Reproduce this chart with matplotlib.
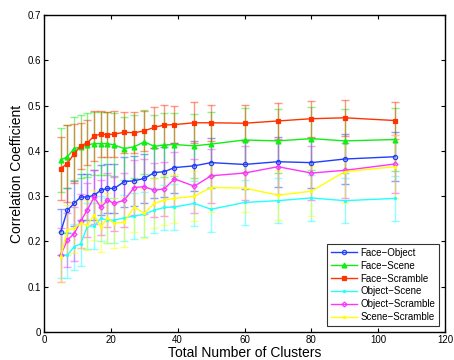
import matplotlib
matplotlib.use("Agg")
import matplotlib.pyplot as plt
import numpy as np

plt.rcParams['font.family'] = ['Liberation Sans', 'DejaVu Sans']

clusters = [5, 7, 9, 11, 13, 15, 17, 19, 21, 24, 27, 30, 33, 36, 39, 45, 50, 60, 70, 80, 90, 105]

face_object = [0.221, 0.269, 0.284, 0.298, 0.298, 0.302, 0.313, 0.317, 0.317, 0.332, 0.334, 0.339,
               0.352, 0.354, 0.363, 0.367, 0.374, 0.370, 0.376, 0.374, 0.382, 0.387]
face_object_err = [0.05, 0.05, 0.05, 0.05, 0.05, 0.055, 0.055, 0.055, 0.055, 0.055, 0.055, 0.055,
                   0.055, 0.055, 0.055, 0.055, 0.055, 0.055, 0.055, 0.055, 0.055, 0.054]

face_scene = [0.380, 0.387, 0.405, 0.409, 0.413, 0.416, 0.416, 0.416, 0.413, 0.405, 0.409, 0.420,
              0.410, 0.413, 0.414, 0.411, 0.415, 0.424, 0.422, 0.427, 0.422, 0.425]
face_scene_err = [0.07, 0.07, 0.07, 0.07, 0.07, 0.07, 0.07, 0.07, 0.07, 0.07, 0.07, 0.07,
                  0.07, 0.07, 0.07, 0.07, 0.07, 0.07, 0.07, 0.07, 0.07, 0.07]

face_scramble = [0.361, 0.372, 0.394, 0.411, 0.418, 0.433, 0.437, 0.436, 0.437, 0.441, 0.440, 0.444,
                 0.452, 0.457, 0.458, 0.462, 0.462, 0.461, 0.466, 0.471, 0.473, 0.467]
face_scramble_err = [0.07, 0.085, 0.065, 0.05, 0.05, 0.055, 0.05, 0.05, 0.05, 0.045, 0.045, 0.045,
                     0.045, 0.045, 0.04, 0.045, 0.04, 0.04, 0.04, 0.04, 0.04, 0.04]

object_scene = [0.170, 0.170, 0.188, 0.195, 0.234, 0.234, 0.251, 0.247, 0.247, 0.252, 0.256, 0.260,
                0.269, 0.275, 0.276, 0.284, 0.271, 0.286, 0.290, 0.296, 0.290, 0.295]
object_scene_err = [0.05, 0.05, 0.05, 0.05, 0.05, 0.05, 0.05, 0.05, 0.05, 0.05, 0.05, 0.05,
                    0.05, 0.05, 0.05, 0.05, 0.05, 0.05, 0.05, 0.05, 0.05, 0.05]

object_scramble = [0.170, 0.203, 0.217, 0.245, 0.270, 0.298, 0.275, 0.291, 0.284, 0.291, 0.319, 0.321,
                   0.313, 0.316, 0.338, 0.322, 0.345, 0.351, 0.365, 0.351, 0.357, 0.371]
object_scramble_err = [0.06, 0.06, 0.06, 0.06, 0.06, 0.06, 0.06, 0.06, 0.06, 0.06, 0.06, 0.06,
                       0.06, 0.06, 0.06, 0.06, 0.06, 0.06, 0.06, 0.06, 0.06, 0.063]

scene_scramble = [0.166, 0.225, 0.229, 0.240, 0.236, 0.258, 0.232, 0.251, 0.240, 0.243, 0.276, 0.262,
                  0.284, 0.291, 0.295, 0.300, 0.319, 0.318, 0.302, 0.311, 0.354, 0.365]
scene_scramble_err = [0.055, 0.055, 0.055, 0.055, 0.055, 0.055, 0.055, 0.055, 0.055, 0.055, 0.055, 0.055,
                      0.055, 0.055, 0.055, 0.055, 0.055, 0.054, 0.055, 0.055, 0.07, 0.07]

series = [
    ("Face\u2212Object", face_object, face_object_err, "#1f3fff", "o", 3.0),
    ("Face\u2212Scene", face_scene, face_scene_err, "#11ee11", "^", 3.5),
    ("Face\u2212Scramble", face_scramble, face_scramble_err, "#ff3300", "s", 3.0),
    ("Object\u2212Scene", object_scene, object_scene_err, "#22ffff", ".", 3.0),
    ("Object\u2212Scramble", object_scramble, object_scramble_err, "#ff33ff", "D", 2.5),
    ("Scene\u2212Scramble", scene_scramble, scene_scramble_err, "#ffff00", ".", 3.0),
]

fig = plt.figure(figsize=(4.54, 3.60), dpi=100)
ax = fig.add_axes([44/454, 1-332/360, (445-44)/454, (332-15)/360])

for name, vals, errs, col, mk, ms in series:
    ax.errorbar(clusters, vals, yerr=errs, fmt='none', ecolor=col, alpha=0.5,
                elinewidth=1.0, capsize=3, capthick=1.0, zorder=2)
for name, vals, errs, col, mk, ms in series:
    ax.plot(clusters, vals, color=col, marker=mk, markersize=ms, linewidth=1.0,
            markerfacecolor='none' if mk in ('o', 'D') else col, markeredgewidth=0.9,
            label=name, zorder=3)

ax.set_xlim(0, 120)
ax.set_ylim(0, 0.7)
ax.set_xticks([0, 20, 40, 60, 80, 100, 120])
ax.set_yticks([0, 0.1, 0.2, 0.3, 0.4, 0.5, 0.6, 0.7])
ax.set_yticklabels(["0", "0.1", "0.2", "0.3", "0.4", "0.5", "0.6", "0.7"])
ax.tick_params(direction='in', top=True, right=True, length=3, width=0.8, labelsize=7, pad=2)
for sp in ax.spines.values():
    sp.set_linewidth(1.0)

ax.set_xlabel("Total Number of Clusters", fontsize=10, labelpad=1)
ax.set_ylabel("Correlation Coefficient", fontsize=10, labelpad=3)

leg = ax.legend(loc='lower right', fontsize=7, frameon=True, fancybox=False, edgecolor='black',
                borderpad=0.4, labelspacing=0.3, handlelength=2.6, handletextpad=0.4,
                borderaxespad=0.6)
leg.get_frame().set_linewidth(0.8)

fig.savefig("out.png", dpi=100)
